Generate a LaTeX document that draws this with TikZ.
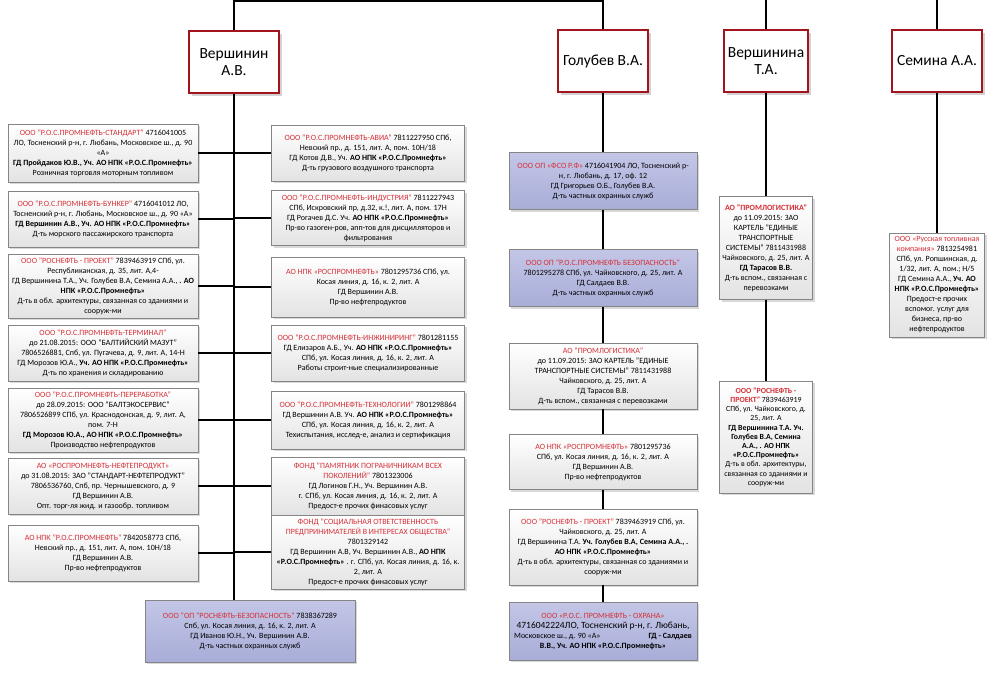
\documentclass[tikz,border=0pt]{standalone}
\usepackage{fontspec}
\setmainfont{Carlito}
\usetikzlibrary{shadows,positioning}
\definecolor{boxred}{HTML}{A3151C}
\definecolor{namered}{HTML}{D62F37}
\definecolor{boxgray}{HTML}{858585}
\definecolor{blueA}{HTML}{C3C6E6}
\definecolor{blueB}{HTML}{A8ADD8}
\newcommand{\rd}[1]{\textcolor{namered}{#1}}
\newcommand{\npk}{АО НПК «Р.О.С.Промнефть»}

\begin{document}
\begin{tikzpicture}[x=1pt,y=-1pt,
    person/.style={draw=boxred, line width=2.6pt, fill=white, minimum height=62, align=center,
        font=\fontsize{15.5}{17.5}\selectfont, drop shadow={shadow xshift=3pt, shadow yshift=-3pt, opacity=0.35}},
    firm/.style={draw=boxgray, line width=0.6pt, top color=white, bottom color=gray!22, align=center,
        inner sep=1pt, font=\fontsize{8}{10}\selectfont, drop shadow={shadow xshift=2pt, shadow yshift=-2pt, opacity=0.3}},
    guard/.style={firm, top color=blueA, bottom color=blueB},
    leftcol/.style={firm, minimum width=190},
    midcol/.style={firm, minimum width=193},
    golcol/.style={firm, minimum width=188},
    link/.style={line width=1.3pt}]

    % Frame
    \fill[white] (0,0) rectangle (1000,674);
    \useasboundingbox (0,0) rectangle (1000,674);

    % Owners
    \node[person, minimum width=90] (vA) at (234,62) {Вершинин\\А.В.};
    \node[person, minimum width=90] (gA) at (603,61) {Голубев В.А.};
    \node[person, minimum width=84] (vT) at (766,61) {Вершинина\\Т.А.};
    \node[person, minimum width=90] (sA) at (937,61) {Семина А.А.};

    % Left column
    \node[leftcol, minimum height=58] (L1) at (103,153) {\rd{ООО "Р.О.С.ПРОМНЕФТЬ-СТАНДАРТ"} 4716041005\\
        ЛО, Тосненский р-н, г. Любань, Московское ш., д. 90\\«А»\\
        \textbf{ГД Пройдаков Ю.В., Уч. \npk}\\Розничная торговля моторным топливом};
    \node[leftcol, minimum height=56] (L2) at (103,219) {\rd{ООО "Р.О.С.ПРОМНЕФТЬ-БУНКЕР"} 4716041012 ЛО,\\
        Тосненский р-н, г. Любань, Московское ш., д. 90 «А»\\
        \textbf{ГД Вершинин А.В., Уч. \npk}\\Д-ть морского пассажирского транспорта};
    \node[leftcol, minimum height=64] (L3) at (103,286) {\rd{ООО "РОСНЕФТЬ - ПРОЕКТ"} 7839463919 СПб, ул.\\
        Республиканская, д. 35, лит. А,4-\\
        ГД Вершинина Т.А., Уч. Голубев В.А, Семина А.А., \textbf{. АО}\\\textbf{НПК «Р.О.С.Промнефть»}\\
        Д-ть в обл. архитектуры, связанная со зданиями и\\сооруж-ми};
    \node[leftcol, minimum height=56] (L4) at (103,353) {\rd{ООО "Р.О.С.ПРОМНЕФТЬ-ТЕРМИНАЛ"}\\
        до 21.08.2015: ООО "БАЛТИЙСКИЙ МАЗУТ"\\7806526881, Спб, ул. Пугачева, д. 9, лит. А, 14-Н\\
        ГД Морозов Ю.А., \textbf{Уч. \npk}\\Д-ть по хранения и складированию};
    \node[leftcol, minimum height=64] (L5) at (103,420) {\rd{ООО "Р.О.С.ПРОМНЕФТЬ-ПЕРЕРАБОТКА"}\\
        до 28.09.2015: ООО "БАЛТЭКОСЕРВИС"\\7806526899 СПб, ул. Краснодонская, д. 9, лит. А,\\пом. 7-Н\\
        \textbf{ГД Морозов Ю.А., \npk}\\Производство нефтепродуктов};
    \node[leftcol, minimum height=56] (L6) at (103,486) {\rd{АО «РОСПРОМНЕФТЬ-НЕФТЕПРОДУКТ»}\\
        до 31.08.2015: ЗАО "СТАНДАРТ-НЕФТЕПРОДУКТ"\\7806536760, Спб, пр. Чернышевского, д. 9\\
        ГД Вершинин А.В.\\Опт. торг-ля жид. и газообр. топливом};
    \node[leftcol, minimum height=56] (L7) at (103,553) {\rd{АО НПК "Р.О.С.ПРОМНЕФТЬ"} 7842058773 СПб,\\
        Невский пр., д. 151, лит. А, пом. 10Н/18\\ГД Вершинин А.В.\\Пр-во нефтепродуктов};

    % Middle column
    \node[midcol, minimum height=56] (M1) at (368,153) {\rd{ООО "Р.О.С.ПРОМНЕФТЬ-АВИА"} 7811227950 СПб,\\
        Невский пр., д. 151, лит. А, пом. 10Н/18\\ГД Котов Д.В., Уч. \textbf{\npk}\\
        Д-ть грузового воздушного транспорта};
    \node[midcol, minimum height=55] (M2) at (368,218) {\rd{ООО "Р.О.С.ПРОМНЕФТЬ-ИНДУСТРИЯ"} 7811227943\\
        СПб, Искровский пр, д.32, к.!, лит. А, пом. 17Н\\ГД Рогачев Д.С. Уч. \textbf{\npk}\\
        Пр-во газоген-ров, апп-тов для дисцилляторов и\\фильтрования};
    \node[midcol, minimum height=60] (M3) at (368,287) {\rd{АО НПК «РОСПРОМНЕФТЬ»} 7801295736 СПб, ул.\\
        Косая линия, д. 16, к. 2, лит. А\\ГД Вершинин А.В.\\Пр-во нефтепродуктов};
    \node[midcol, minimum height=56] (M4) at (368,353) {\rd{ООО "Р.О.С.ПРОМНЕФТЬ-ИНЖИНИРИНГ"} 7801281155\\
        ГД Елизаров А.Б., Уч. \textbf{\npk}\\СПб, ул. Косая линия, д. 16, к. 2, лит. А\\
        Работы строит-ные специализированные};
    \node[midcol, minimum height=58] (M5) at (368,420) {\rd{ООО "Р.О.С.ПРОМНЕФТЬ-ТЕХНОЛОГИИ"} 7801298864\\
        ГД Вершинин А.В. Уч. \textbf{\npk}\\СПб, ул. Косая линия, д. 16, к. 2, лит. А\\
        Техиспытания, исслед-е, анализ и сертификация};
    \node[midcol, minimum height=58] (M6) at (368,486) {\rd{ФОНД "ПАМЯТНИК ПОГРАНИЧНИКАМ ВСЕХ}\\
        \rd{ПОКОЛЕНИЙ"} 7801323006\\ГД Логинов Г.Н., Уч. Вершинин А.В.\\
        г. СПб, ул. Косая линия, д. 16, к. 2, лит. А\\Предост-е прочих финасовых услуг};
    \node[midcol, minimum height=74] (M7) at (368,552) {\rd{ФОНД "СОЦИАЛЬНАЯ ОТВЕТСТВЕННОСТЬ}\\
        \rd{ПРЕДПРИНИМАТЕЛЕЙ В ИНТЕРЕСАХ ОБЩЕСТВА"}\\7801329142\\
        ГД Вершинин А.В, Уч. Вершинин А.В., \textbf{АО НПК}\\
        \textbf{«Р.О.С.Промнефть»} . г. СПб, ул. Косая линия, д. 16, к.\\2, лит. А\\
        Предост-е прочих финасовых услуг};

    % Bottom
    \node[guard, minimum width=210, minimum height=62] (B) at (250,631) {\rd{ООО "ОП "РОСНЕФТЬ-БЕЗОПАСНОСТЬ"} 7838367289\\
        Спб, ул. Косая линия, д. 16, к. 2, лит. А\\ГД Иванов Ю.Н., Уч. Вершинин А.В.\\
        Д-ть частных охранных служб};

    % Golubev column
    \node[guard, minimum width=188, minimum height=57] (G1) at (603,181) {\rd{ООО ОП «ФСО Р.Ф»} 4716041904 ЛО, Тосненский р-\\
        н, г. Любань, д. 17, оф. 12\\ГД Григорьев О.Б., Голубев В.А.\\Д-ть частных охранных служб};
    \node[guard, minimum width=188, minimum height=57] (G2) at (603,278) {\rd{ООО ОП "Р.О.С.ПРОМНЕФТЬ БЕЗОПАСНОСТЬ"}\\
        7801295278 СПб, ул. Чайковского, д. 25, лит. А\\ГД Салдаев В.В.\\Д-ть частных охранных служб};
    \node[golcol, minimum height=66] (G3) at (603,376) {\rd{АО "ПРОМЛОГИСТИКА"}\\до 11.09.2015: ЗАО КАРТЕЛЬ "ЕДИНЫЕ\\
        ТРАНСПОРТНЫЕ СИСТЕМЫ" 7811431988\\Чайковского, д. 25, лит. А\\ГД Тарасов В.В.\\
        Д-ть вспом., связанная с перевозками};
    \node[golcol, minimum height=55] (G4) at (603,462) {\rd{АО НПК «РОСПРОМНЕФТЬ»} 7801295736\\
        СПб, ул. Косая линия, д. 16, к. 2, лит. А\\ГД Вершинин А.В.\\Пр-во нефтепродуктов};
    \node[golcol, minimum height=76] (G5) at (603,547) {\rd{ООО "РОСНЕФТЬ - ПРОЕКТ"} 7839463919 СПб, ул.\\
        Чайковского, д. 25, лит. А\\ГД Вершинина Т.А. \textbf{Уч. Голубев В.А, Семина А.А., .}\\
        \textbf{\npk}\\Д-ть в обл. архитектуры, связанная со зданиями и\\сооруж-ми};
    \node[guard, minimum width=188, minimum height=58] (G6) at (603,631) {\rd{ООО «Р.О.С. ПРОМНЕФТЬ - ОХРАНА»}\\
        {\fontsize{9.5}{11}\selectfont 4716042224ЛО, Тосненский р-н, г. Любань,}\\
        Московское ш., д. 90 «А»\hspace{48pt}\textbf{ГД - Салдаев}\\\textbf{В.В., Уч. \npk}};

    % Vershinina column
    \node[firm, minimum width=93, minimum height=103] (V1) at (766,248) {\textbf{\rd{АО "ПРОМЛОГИСТИКА"}}\\
        до 11.09.2015: ЗАО\\КАРТЕЛЬ "ЕДИНЫЕ\\ТРАНСПОРТНЫЕ\\СИСТЕМЫ" 7811431988\\
        Чайковского, д. 25, лит. А\\\textbf{ГД Тарасов В.В.}\\Д-ть вспом., связанная с\\перевозками};
    \node[firm, minimum width=93, minimum height=112, font=\fontsize{7.8}{9.2}\selectfont] (V2) at (766,437)
        {\textbf{\rd{ООО "РОСНЕФТЬ -}}\\
        \textbf{\rd{ПРОЕКТ"}} 7839463919\\СПб, ул. Чайковского, д.\\25, лит. А\\
        \textbf{ГД Вершинина Т.А. Уч.}\\\textbf{Голубев В.А, Семина}\\\textbf{А.А., . АО НПК}\\
        \textbf{«Р.О.С.Промнефть»}\\Д-ть в обл. архитектуры,\\связанная со зданиями и\\сооруж-ми};

    % Semina column
    \node[firm, minimum width=95, minimum height=104] (S1) at (937,285) {\rd{ООО «Русская топливная}\\
        \rd{компания»} 7813254981\\СПб, ул. Ропшинская, д.\\1/32, лит. А, пом.; Н/5\\
        ГД Семина А.А., \textbf{Уч. АО}\\\textbf{НПК «Р.О.С.Промнефть»}\\Предост-е прочих\\
        вспомог. услуг для\\бизнеса, пр-во\\нефтепродуктов};

    % Top links
    \coordinate (top) at (234,1);
    \draw[link] (vA.north) -- (top) -- (top -| gA.north) -- (gA.north);
    \draw[link] (vT.north) -- (vT.north |- 0,0);
    \draw[link] (sA.north) -- (sA.north |- 0,0);

    % Vershinin spine
    \draw[link] (vA.south) -- (vA.south |- B.north);
    \foreach \n in {L1,L2,L3,L4,L5,L6,L7}
        \draw[link] (\n.east) -- (\n.east -| vA.south);
    \foreach \n in {M1,M2,M3,M4,M5,M6,M7}
        \draw[link] (\n.west) -- (\n.west -| vA.south);

    % Golubev chain
    \draw[link] (gA.south) -- (G1.north) (G1.south) -- (G2.north) (G2.south) -- (G3.north)
        (G3.south) -- (G4.north) (G4.south) -- (G5.north) (G5.south) -- (G6.north);

    % Vershinina and Semina
    \draw[link] (vT.south) -- (V1.north) (V1.south) -- (V2.north);
    \draw[link] (sA.south) -- (S1.north);

\end{tikzpicture}
\end{document}
